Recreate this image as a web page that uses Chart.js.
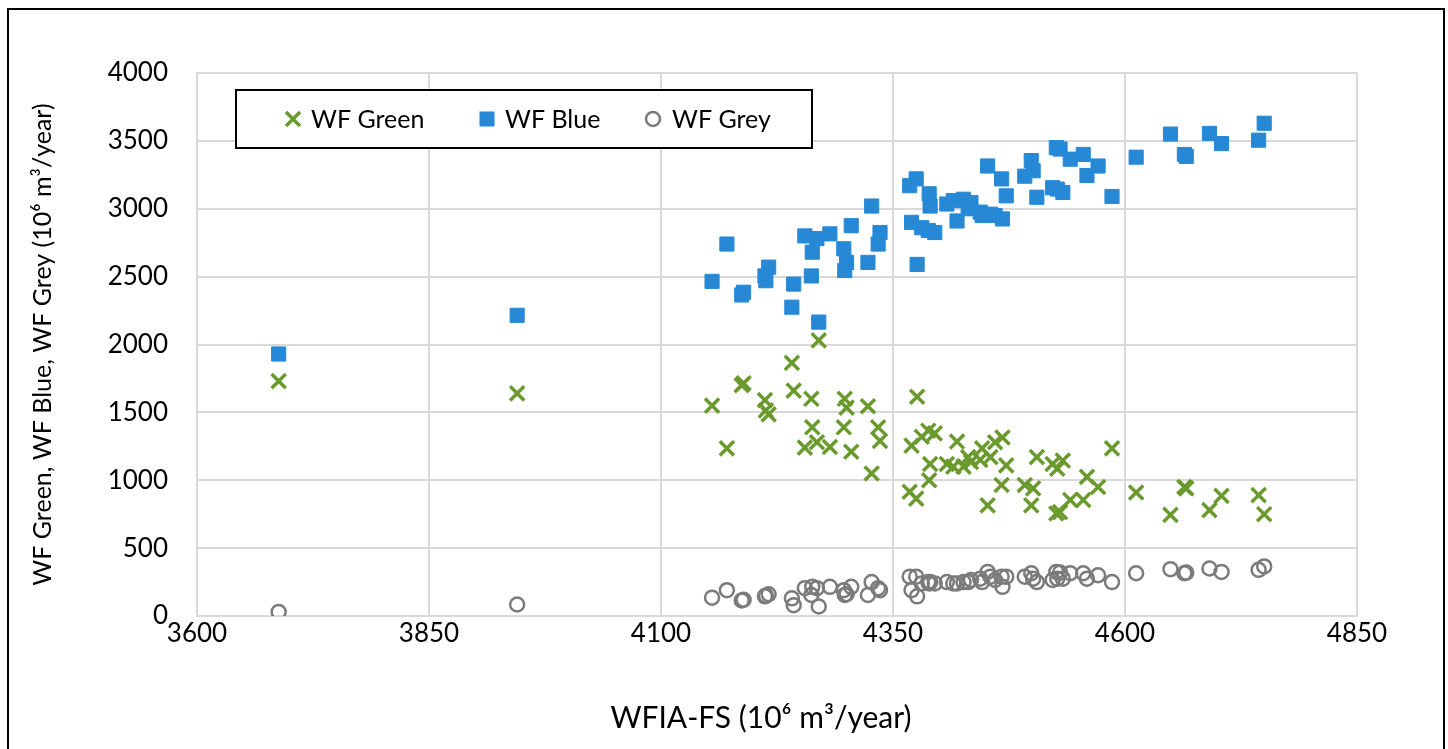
<!DOCTYPE html>
<html><head><meta charset="utf-8">
<script src="https://cdn.jsdelivr.net/npm/chart.js@4.4.0/dist/chart.umd.min.js"></script>
<style>
html,body{margin:0;padding:0;background:#fff;overflow:hidden;width:1448px;height:749px;}
#wrap{position:absolute;left:0;top:0;width:1448px;height:749px;}
#frame{position:absolute;left:7px;top:8px;width:1438px;height:760px;border:2px solid #000;box-sizing:border-box;pointer-events:none;}
</style></head><body>
<div id="wrap"><canvas id="c" width="1448" height="749"></canvas></div>
<div id="frame"></div>
<script>
// WFIA-FS (x) and the three water-footprint components (y), one entry per observation
const wfiaFS = [3688,3945,4155,4171,4187,4189,4212,4213,4216,4241,4243,4255,4262,4263,4268,4270,4282,4297,4298,4300,4305,4323,4327,4334,4336,4368,4370,4375,4376,4381,4388,4389,4390,4395,4408,4415,4419,4426,4431,4434,4444,4446,4452,4455,4460,4468,4467,4472,4492,4499,4501,4505,4522,4526,4527,4533,4530,4541,4555,4559,4571,4586,4612,4649,4664,4666,4691,4704,4744,4750];
const wfGreen = [1730,1640,1550,1235,1700,1715,1590,1515,1485,1865,1660,1240,1600,1390,1280,2030,1245,1390,1600,1535,1210,1545,1050,1390,1290,915,1255,865,1615,1320,1365,1000,1120,1345,1120,1100,1285,1100,1170,1135,1150,1235,815,1170,1280,1315,965,1110,965,815,940,1170,1120,755,1085,1145,765,855,855,1025,950,1235,910,745,950,940,780,885,890,750];
const wfBlue = [1930,2215,2465,2740,2365,2385,2505,2470,2570,2275,2445,2800,2505,2680,2780,2165,2815,2705,2545,2605,2875,2605,3020,2740,2825,3170,2900,3220,2590,2860,2840,3110,3020,2825,3035,3060,2910,3070,3000,3045,2975,2950,3315,2960,2950,2925,3220,3095,3240,3355,3280,3085,3155,3450,3145,3120,3440,3365,3400,3245,3315,3090,3380,3550,3400,3385,3555,3480,3505,3630];
const wfGrey = [30,85,135,190,115,120,145,150,160,130,80,205,155,215,205,70,215,190,155,160,215,155,250,205,190,290,190,290,145,240,250,240,250,240,250,240,240,250,250,265,275,250,325,290,265,215,290,290,290,315,275,250,265,325,275,275,320,315,315,275,300,250,315,345,315,320,350,325,340,365];

const xTicks = {min:3600, max:4850, step:250};
const yTicks = {min:0, max:4000, step:500};
const seriesNames = ['WF Green','WF Blue','WF Grey'];
const xTitle = 'WFIA-FS (10⁶ m³/year)';
const yTitle = 'WF Green, WF Blue, WF Grey (10⁶ m³/year)';

const GREEN='#6A9A2E', BLUE='#2789D6', GREY='#7B7B7B';
const FONT='Lato, "Open Sans", sans-serif';

function pts(ys){ return wfiaFS.map((x,i)=>({x:x, y:ys[i]})); }

const boxLegend = {
  id:'boxLegend',
  afterDraw(chart){
    const ctx=chart.ctx, a=chart.chartArea;
    const x0=a.left+39, y0=a.top+17, w=576, h=58, cy=y0+h/2;
    ctx.save();
    ctx.fillStyle='#fff'; ctx.fillRect(x0,y0,w,h);
    ctx.strokeStyle='#000'; ctx.lineWidth=2; ctx.strokeRect(x0,y0,w,h);
    let mx=x0+57;
    ctx.strokeStyle=GREEN; ctx.lineWidth=3.5;
    ctx.beginPath(); ctx.moveTo(mx-7,cy-7); ctx.lineTo(mx+7,cy+7); ctx.moveTo(mx-7,cy+7); ctx.lineTo(mx+7,cy-7); ctx.stroke();
    mx=x0+251;
    ctx.fillStyle=BLUE; ctx.fillRect(mx-7.5,cy-7.5,15,15);
    mx=x0+417;
    ctx.strokeStyle=GREY; ctx.lineWidth=2.5;
    ctx.beginPath(); ctx.arc(mx,cy,7,0,Math.PI*2); ctx.stroke();
    ctx.fillStyle='#000'; ctx.font='25px '+FONT; ctx.textBaseline='middle'; ctx.textAlign='left';
    ctx.fillText(seriesNames[0], x0+75, cy+1);
    ctx.fillText(seriesNames[1], x0+269, cy+1);
    ctx.fillText(seriesNames[2], x0+436, cy+1);
    // x-axis title
    ctx.font='30px '+FONT; ctx.textAlign='center';
    ctx.fillText(xTitle, 761, 718);
    ctx.restore();
  }
};

new Chart(document.getElementById('c'), {
  type:'scatter',
  data:{datasets:[
    {label:seriesNames[0], data:pts(wfGreen), pointStyle:'crossRot', pointRadius:10, pointHoverRadius:10, borderColor:GREEN, backgroundColor:GREEN, borderWidth:3.5, order:3},
    {label:seriesNames[1], data:pts(wfBlue), pointStyle:'rect', pointRadius:10, pointHoverRadius:10, borderColor:BLUE, backgroundColor:BLUE, borderWidth:1, order:2},
    {label:seriesNames[2], data:pts(wfGrey), pointStyle:'circle', pointRadius:7, pointHoverRadius:7, borderColor:GREY, backgroundColor:'rgba(0,0,0,0)', borderWidth:2.5, order:1}
  ]},
  options:{
    responsive:false, animation:false, devicePixelRatio:1,
    layout:{padding:{left:0, right:91, top:73, bottom:0}},
    plugins:{legend:{display:false}, tooltip:{enabled:false}},
    scales:{
      x:{type:'linear', min:xTicks.min, max:xTicks.max,
        ticks:{stepSize:xTicks.step, color:'#000', font:{family:FONT, size:26}, padding:2, maxRotation:0, callback:v=>String(v)},
        grid:{color:'#D9D9D9', lineWidth:2, drawTicks:false},
        border:{color:'#D9D9D9', width:2},
        title:{display:false},
        afterFit(s){ s.height = 133; }
      },
      y:{min:yTicks.min, max:yTicks.max,
        ticks:{stepSize:yTicks.step, color:'#000', font:{family:FONT, size:26}, padding:29, callback:v=>String(v)},
        grid:{color:'#D9D9D9', lineWidth:2, drawTicks:false},
        border:{color:'#D9D9D9', width:2},
        title:{display:true, text:yTitle, color:'#000', font:{family:FONT, size:25}, padding:{top:28,bottom:0}},
        afterFit(s){ s.width = 197; }
      }
    }
  },
  plugins:[boxLegend]
});
</script>
</body></html>
